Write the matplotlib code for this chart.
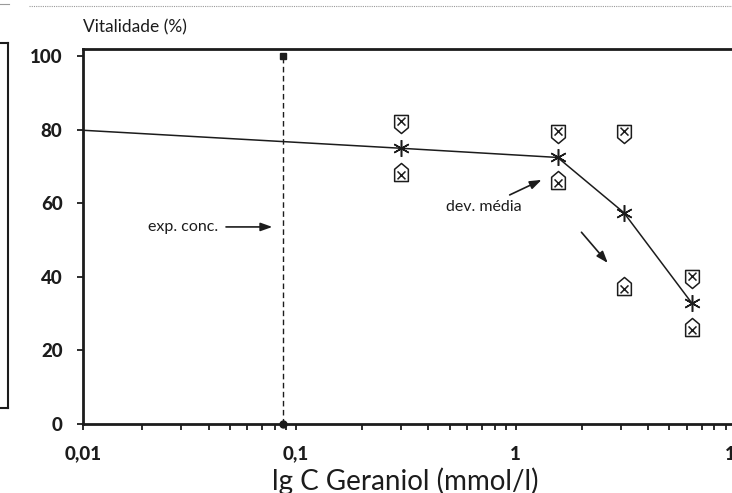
import numpy as np
import matplotlib.pyplot as plt
from matplotlib.path import Path
from matplotlib.lines import Line2D
from matplotlib.ticker import FixedLocator, FixedFormatter, LogLocator, NullFormatter

plt.rcParams['font.family'] = ['Lato', 'DejaVu Sans']

# values
conc = [0.3, 1.55, 3.1, 6.3]          # mmol/l
vit_mean = [75, 72.5, 57.5, 33]       # %
vit_upper = [81.5, 79, 79, 39.5]
vit_lower = [68.5, 66.5, 37.5, 26.5]
control_conc = 0.01
control_vit = 80
exp_conc = 0.087
exp_range = [0, 100]

XMIN, XMAX = 0.0107, 12
x_ticks = [XMIN, 0.1, 1, 10]
x_labels = ['0,01', '0,1', '1', '10']
y_ticks = [0, 20, 40, 60, 80, 100]
y_labels = ['0', '20', '40', '60', '80', '100']

INK = '#1c1c1c'


def shield(point_down=True):
    # box with an x inside and a pointed end
    s = 1 if point_down else -1
    verts = [(-0.38, 0.5), (0.38, 0.5), (0.38, -0.18), (0, -0.5), (-0.38, -0.18), (-0.38, 0.5),
             (-0.22, 0.38), (0.22, -0.06), (-0.22, -0.06), (0.22, 0.38)]
    verts = [(x, s * y) for x, y in verts]
    codes = [Path.MOVETO] + [Path.LINETO] * 4 + [Path.CLOSEPOLY] + \
            [Path.MOVETO, Path.LINETO, Path.MOVETO, Path.LINETO]
    return Path(verts, codes)


fig = plt.figure(figsize=(7.32, 4.93), dpi=100)

# neighbouring panel, cut off at the left edge of the scan
side = fig.add_axes([-0.1, 0.172, 0.1113, 0.741])
side.set_xticks([])
side.set_yticks([])
for sp in side.spines.values():
    sp.set_linewidth(1.5)
    sp.set_color(INK)

fig.add_artist(Line2D([0.04, 1.0], [0.988, 0.988], transform=fig.transFigure,
                      color='#9a9a9a', lw=0.8, ls=(0, (1, 1))))
fig.add_artist(Line2D([0.0, 0.012], [0.992, 0.992], transform=fig.transFigure,
                      color='#9a9a9a', lw=0.8))

ax = fig.add_axes([0.113, 0.14, 0.9157, 0.7606])
ax.set_xscale('log')
ax.set_xlim(XMIN, XMAX)
ax.set_ylim(0, 102)

for sp in ax.spines.values():
    sp.set_linewidth(2)
    sp.set_color(INK)

ax.xaxis.set_major_locator(FixedLocator(x_ticks))
ax.xaxis.set_major_formatter(FixedFormatter(x_labels))
ax.xaxis.set_minor_locator(LogLocator(base=10, subs=np.arange(2, 10)))
ax.xaxis.set_minor_formatter(NullFormatter())
ax.set_yticks(y_ticks)
ax.set_yticklabels(y_labels)

ax.tick_params(axis='both', which='both', direction='out', length=4.5, width=1.3, color=INK,
               labelsize=13.5, labelcolor=INK)
ax.tick_params(axis='x', which='major', pad=11)
ax.tick_params(axis='y', pad=10)
for lab in ax.get_xticklabels() + ax.get_yticklabels():
    lab.set_fontweight('black')

# mean curve
ax.plot([control_conc] + conc, [control_vit] + vit_mean, color=INK, lw=1.1)
ax.plot(conc, vit_mean, ls='none', marker=(6, 2, 0), ms=12, mew=1.1, color=INK)
ax.plot(conc, vit_upper, ls='none', marker=shield(True), ms=13, mew=1.1,
        mfc='white', mec=INK)
ax.plot(conc, vit_lower, ls='none', marker=shield(False), ms=13, mew=1.1,
        mfc='white', mec=INK)

# experimental concentration
ax.plot([exp_conc, exp_conc], exp_range, color=INK, lw=1, ls=(0, (4, 2.5)))
ax.plot(exp_conc, exp_range[0], marker='o', ms=5, color=INK, clip_on=False)
ax.plot(exp_conc, exp_range[1], marker='s', ms=4.5, color=INK, clip_on=False)

arrow = dict(arrowstyle='-|>,head_length=0.7,head_width=0.25', color=INK, lw=1.2,
             shrinkA=4, shrinkB=0, mutation_scale=10)
ax.annotate('exp. conc.', xy=(0.078, 53.6), xytext=(0.044, 53.6), ha='right', va='center',
            fontsize=11.5, color=INK, arrowprops=arrow)
ax.annotate('dev. média', xy=(1.31, 66.4), xytext=(0.716, 59.0), ha='center', va='center',
            fontsize=11.5, color=INK, arrowprops=arrow)
ax.annotate('', xy=(2.62, 43.8), xytext=(1.915, 53.3), arrowprops=arrow)

ax.set_ylabel('Vitalidade (%)', rotation=0, ha='left', va='center', fontsize=12.5, color=INK)
ax.yaxis.set_label_coords(0.0, 1.059)
ax.set_xlabel('lg C Geraniol (mmol/l)', fontsize=20, color=INK)
ax.xaxis.set_label_coords(0.481, -0.117)

fig.savefig('out.png', dpi=100)
